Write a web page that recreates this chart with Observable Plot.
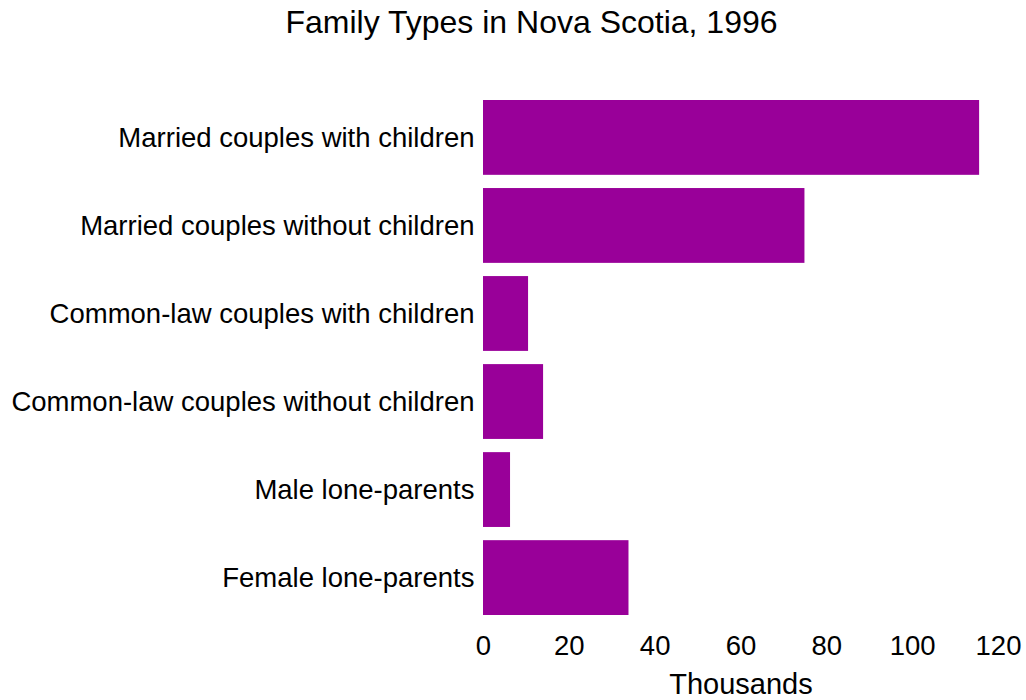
<!DOCTYPE html>
<html>
<head>
<meta charset="utf-8">
<script src="https://cdn.jsdelivr.net/npm/d3@7"></script>
<script src="https://cdn.jsdelivr.net/npm/@observablehq/plot@0.6"></script>
<style>
  html, body { margin: 0; padding: 0; background: #fff; }
  #wrap { position: relative; width: 1026px; height: 700px; font-family: "Liberation Sans", Arial, sans-serif; }
  #title { position: absolute; left: 0; width: 1063px; top: 2px; text-align: center; font-size: 32px; color: #000; line-height: 40px; }
</style>
</head>
<body>
<div id="wrap">
  <div id="title">Family Types in Nova Scotia, 1996</div>
  <div id="chart"></div>
</div>
<script>
const categories = [
  "Married couples with children",
  "Married couples without children",
  "Common-law couples with children",
  "Common-law couples without children",
  "Male lone-parents",
  "Female lone-parents"
];
const values = [115.6, 74.9, 10.5, 14.0, 6.3, 33.9];
const xTicks = [0, 20, 40, 60, 80, 100, 120];

const data = categories.map((c, i) => ({category: c, value: values[i]}));

const chart = Plot.plot({
  width: 1026,
  height: 700,
  marginTop: 100,
  marginBottom: 85,
  marginLeft: 483,
  marginRight: 28,
  style: {fontFamily: "Liberation Sans, Arial, sans-serif", background: "#fff", color: "#000"},
  x: {domain: [0, 120], ticks: xTicks},
  y: {domain: categories, paddingInner: 0.15, paddingOuter: 0, round: false},
  marks: [
    Plot.barX(data, {x: "value", y: "category", fill: "#990099"}),
    Plot.axisX({ticks: xTicks, tickSize: 0, tickPadding: 20, fontSize: 27.5, label: null}),
    Plot.axisY({tickSize: 0, tickPadding: 9, fontSize: 27.5, label: null}),
    Plot.text(["Thousands"], {frameAnchor: "bottom", dy: 78, fontSize: 29, fill: "#000"})
  ]
});
document.getElementById("chart").appendChild(chart);
</script>
</body>
</html>
